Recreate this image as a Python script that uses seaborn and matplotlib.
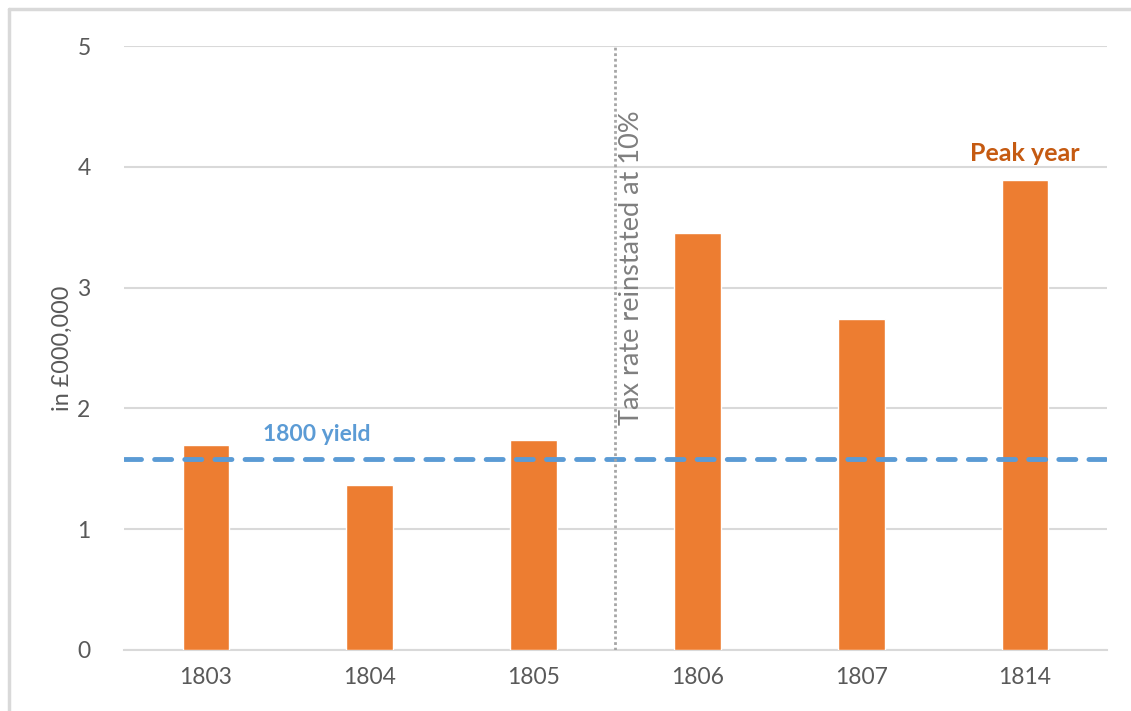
import seaborn as sns
import matplotlib.pyplot as plt
import pandas as pd
from matplotlib.lines import Line2D

sns.set_theme(style="white")
plt.rcParams['font.family'] = ['Lato', 'DejaVu Sans']

# data
years = ["1803", "1804", "1805", "1806", "1807", "1814"]
yield_m = [1.70, 1.37, 1.74, 3.45, 2.74, 3.89]
yield_1800 = 1.58

df = pd.DataFrame({"year": years, "value": yield_m})

grey = "#595959"
fig = plt.figure(figsize=(11.31, 7.11), dpi=100)
ax = fig.add_axes([0.1096, 0.0858, 0.8692, 0.8495])

sns.barplot(data=df, x="year", y="value", color="#ED7D31", width=0.285,
            saturation=1, ax=ax, zorder=3)

ax.set_ylim(0, 5)
ax.set_xlim(-0.5, len(years) - 0.5)
ax.set_yticks(range(0, 6))
ax.yaxis.grid(True, color="#D9D9D9", lw=1.5, zorder=0)
ax.set_axisbelow(True)
for s in ["top", "right", "left"]:
    ax.spines[s].set_visible(False)
ax.spines["bottom"].set_color("#D9D9D9")
ax.spines["bottom"].set_linewidth(1.5)
ax.tick_params(axis="both", length=0, labelsize=16.5, labelcolor=grey, pad=12)
ax.tick_params(axis="y", pad=24)
ax.set_xlabel("")
ax.set_ylabel("in £000,000", fontsize=16.8, color=grey)
ax.yaxis.set_label_coords(-0.052, 0.5)

# 1800 yield reference line
ax.axhline(yield_1800, color="#5B9BD5", lw=3.5, ls=(0, (3.5, 2.7)),
           dash_capstyle="round", zorder=4)
ax.text(0.35, 1.78, "1800 yield", color="#5B9BD5", fontsize=16.5,
        fontweight="bold", va="center", ha="left")

# tax reinstated marker
ax.axvline(2.5, color="#A6A6A6", lw=2, ls=(0, (1, 1)), zorder=4)
ax.text(2.6, 1.86, "Tax rate reinstated at 10%", rotation=90, color="#7F7F7F",
        fontsize=19.5, ha="center", va="bottom")

ax.text(5, 4.11, "Peak year", color="#C55A11", fontsize=18,
        fontweight="bold", ha="center", va="center")

# outer frame: only top and left edges show
fig.lines.append(Line2D([0.008, 1.0], [0.987, 0.987], transform=fig.transFigure,
                        color="#D9D9D9", lw=2.5))
fig.lines.append(Line2D([0.008, 0.008], [0.0, 0.987], transform=fig.transFigure,
                        color="#D9D9D9", lw=2.5))

fig.savefig("out.png", dpi=100)
